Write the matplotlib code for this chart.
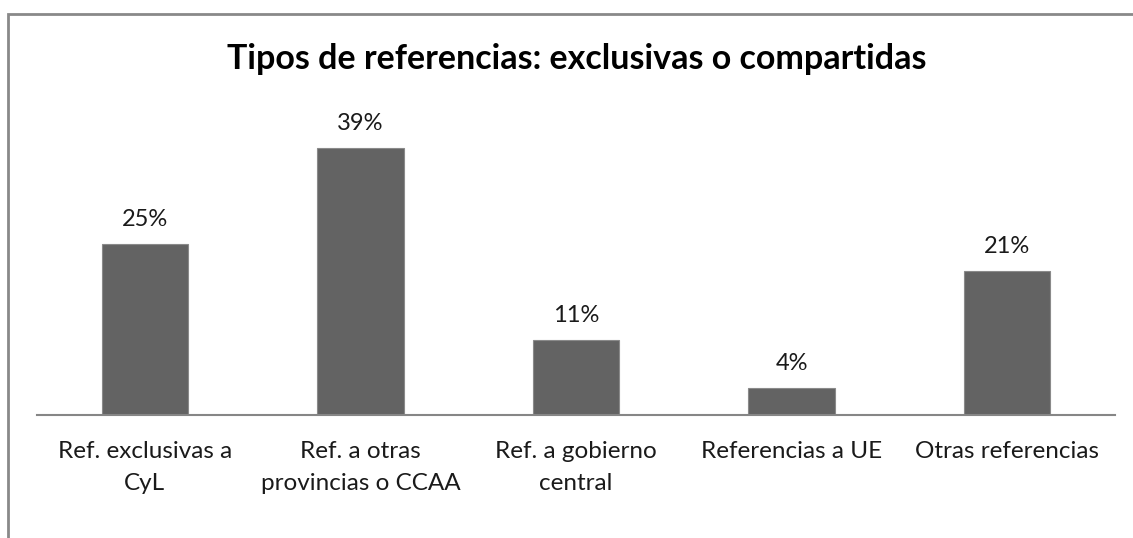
import matplotlib
matplotlib.use("Agg")
import matplotlib.pyplot as plt
from matplotlib.patches import Rectangle

categories = ["Ref. exclusivas a\nCyL", "Ref. a otras\nprovincias o CCAA", "Ref. a gobierno\ncentral",
              "Referencias a UE", "Otras referencias"]
values = [0.25, 0.39, 0.11, 0.04, 0.21]
value_labels = ["25%", "39%", "11%", "4%", "21%"]
title = "Tipos de referencias: exclusivas o compartidas"

W, H = 1133, 538
fig = plt.figure(figsize=(W / 100, H / 100), dpi=100)
plt.rcParams['font.family'] = ['Lato', 'DejaVu Sans']

# frame around chart area
fig.patches.append(Rectangle((8 / W, -0.1), 1.2, (H - 14) / H + 0.1, transform=fig.transFigure,
                             fill=False, edgecolor="#898989", linewidth=2))

ax_left, ax_right = 37, 1115
ax_bottom = 415
ymax = 0.45
px_per_unit = 267 / 0.39
ax_top = ax_bottom - ymax * px_per_unit
ax = fig.add_axes([ax_left / W, 1 - ax_bottom / H, (ax_right - ax_left) / W, (ax_bottom - ax_top) / H])

x = range(len(categories))
bars = ax.bar(x, values, width=0.4, color="#636363", edgecolor="#8a8a8a", linewidth=0.8)
ax.set_xlim(-0.5, len(categories) - 0.5)
ax.set_ylim(0, ymax)
for xi, v, lab in zip(x, values, value_labels):
    ax.annotate(lab, (xi, v), xytext=(0, 10), textcoords="offset points", ha="center", va="bottom",
                fontsize=17, color="#1a1a1a")

ax.set_xticks(list(x))
ax.set_xticklabels(categories, fontsize=17.5, color="#1a1a1a", linespacing=1.6)
ax.tick_params(axis="x", length=0, pad=19)
ax.set_yticks([])
for s in ["top", "right", "left"]:
    ax.spines[s].set_visible(False)
ax.spines["bottom"].set_color("#868686")
ax.spines["bottom"].set_linewidth(1.5)

fig.text(577 / W, 1 - 69 / H, title, ha="center", va="baseline", fontsize=24.5, fontweight="bold", color="#000000")

fig.savefig("out.png", dpi=100)
